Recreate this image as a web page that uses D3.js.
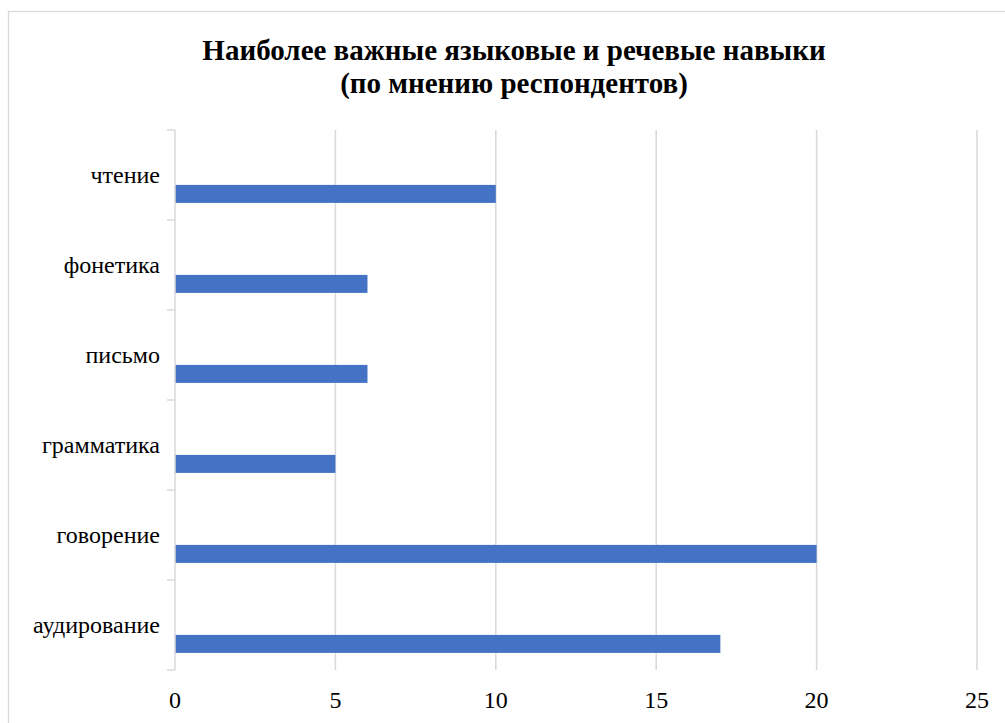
<!DOCTYPE html>
<html>
<head>
<meta charset="utf-8">
<script src="https://cdn.jsdelivr.net/npm/d3@7"></script>
</head>
<body style="margin:0">
<svg id="chart" width="1005" height="723" style="display:block"></svg>
<script>
// Skills, listed top to bottom as shown on the category axis
const categories = ["чтение", "фонетика", "письмо", "грамматика", "говорение", "аудирование"];
const values = [10, 6, 6, 5, 20, 17];
const xTicks = [0, 5, 10, 15, 20, 25];
const titleLines = ["Наиболее важные языковые и речевые навыки", "(по мнению респондентов)"];
const fontFamilies = ["Liberation Serif", "Times New Roman", "Tinos"];

const svg = d3.select("#chart");
const W = 1005, H = 723;
const margin = { left: 175, right: 28, top: 130, bottom: 53 };
const serifStack = fontFamilies.map(f => `"${f}"`).join(", ") + ", serif";

// Every label uses the serif stack; set it on the root and on each text
svg.attr("font-family", serifStack).style("font-family", serifStack);
const setFont = (sel, size, weight) => sel
  .attr("font-family", serifStack)
  .style("font-family", serifStack)
  .attr("font-size", size)
  .style("font-size", size + "px")
  .attr("font-weight", weight)
  .style("font-weight", weight);

// Chart frame
svg.append("rect")
  .attr("x", 8.5).attr("y", 11.5)
  .attr("width", W + 10).attr("height", H + 10)
  .attr("fill", "#fff").attr("stroke", "#d9d9d9").attr("stroke-width", 1.3);

const x = d3.scaleLinear().domain([0, 25]).range([margin.left, W - margin.right]);
const y = d3.scaleBand().domain(categories).range([margin.top, H - margin.bottom]).padding(0);

// Vertical gridlines
svg.append("g")
  .selectAll("line")
  .data(xTicks.filter(d => d > 0))
  .join("line")
  .attr("x1", d => x(d)).attr("x2", d => x(d))
  .attr("y1", margin.top).attr("y2", H - margin.bottom)
  .attr("stroke", "#d9d9d9").attr("stroke-width", 1.5);

// Bars sit in the lower part of each category band
const barOffset = 0.61, barSize = 0.2;
svg.append("g")
  .selectAll("rect")
  .data(categories.map((c, i) => ({ c, v: values[i] })))
  .join("rect")
  .attr("x", x(0))
  .attr("y", d => y(d.c) + y.bandwidth() * barOffset)
  .attr("width", d => x(d.v) - x(0))
  .attr("height", y.bandwidth() * barSize)
  .attr("fill", "#4472c4");

// Category axis with tick marks between categories
const yAxis = svg.append("g").attr("transform", `translate(${margin.left},0)`);
yAxis.append("line")
  .attr("x1", 0).attr("x2", 0)
  .attr("y1", margin.top).attr("y2", H - margin.bottom)
  .attr("stroke", "#d9d9d9").attr("stroke-width", 1.5);
const boundaries = categories.map(c => y(c)).concat([y(categories[categories.length - 1]) + y.bandwidth()]);
yAxis.selectAll(".tk")
  .data(boundaries)
  .join("line")
  .attr("class", "tk")
  .attr("x1", -8).attr("x2", 0)
  .attr("y1", d => d).attr("y2", d => d)
  .attr("stroke", "#d9d9d9").attr("stroke-width", 1.5);
yAxis.selectAll("text")
  .data(categories)
  .join("text")
  .attr("x", -15)
  .attr("y", d => y(d) + y.bandwidth() / 2 + 8)
  .attr("text-anchor", "end")
  .attr("fill", "#000")
  .call(setFont, 24, "normal")
  .text(d => d);

// Value axis labels
svg.append("g")
  .selectAll("text")
  .data(xTicks)
  .join("text")
  .attr("x", d => x(d))
  .attr("y", H - margin.bottom + 38)
  .attr("text-anchor", "middle")
  .attr("fill", "#000")
  .call(setFont, 24, "normal")
  .text(d => d);

// Title
svg.append("g")
  .selectAll("text")
  .data(titleLines)
  .join("text")
  .attr("x", 514)
  .attr("y", (d, i) => 60 + i * 33)
  .attr("text-anchor", "middle")
  .attr("fill", "#000")
  .call(setFont, 29, "bold")
  .text(d => d);
</script>
</body>
</html>
